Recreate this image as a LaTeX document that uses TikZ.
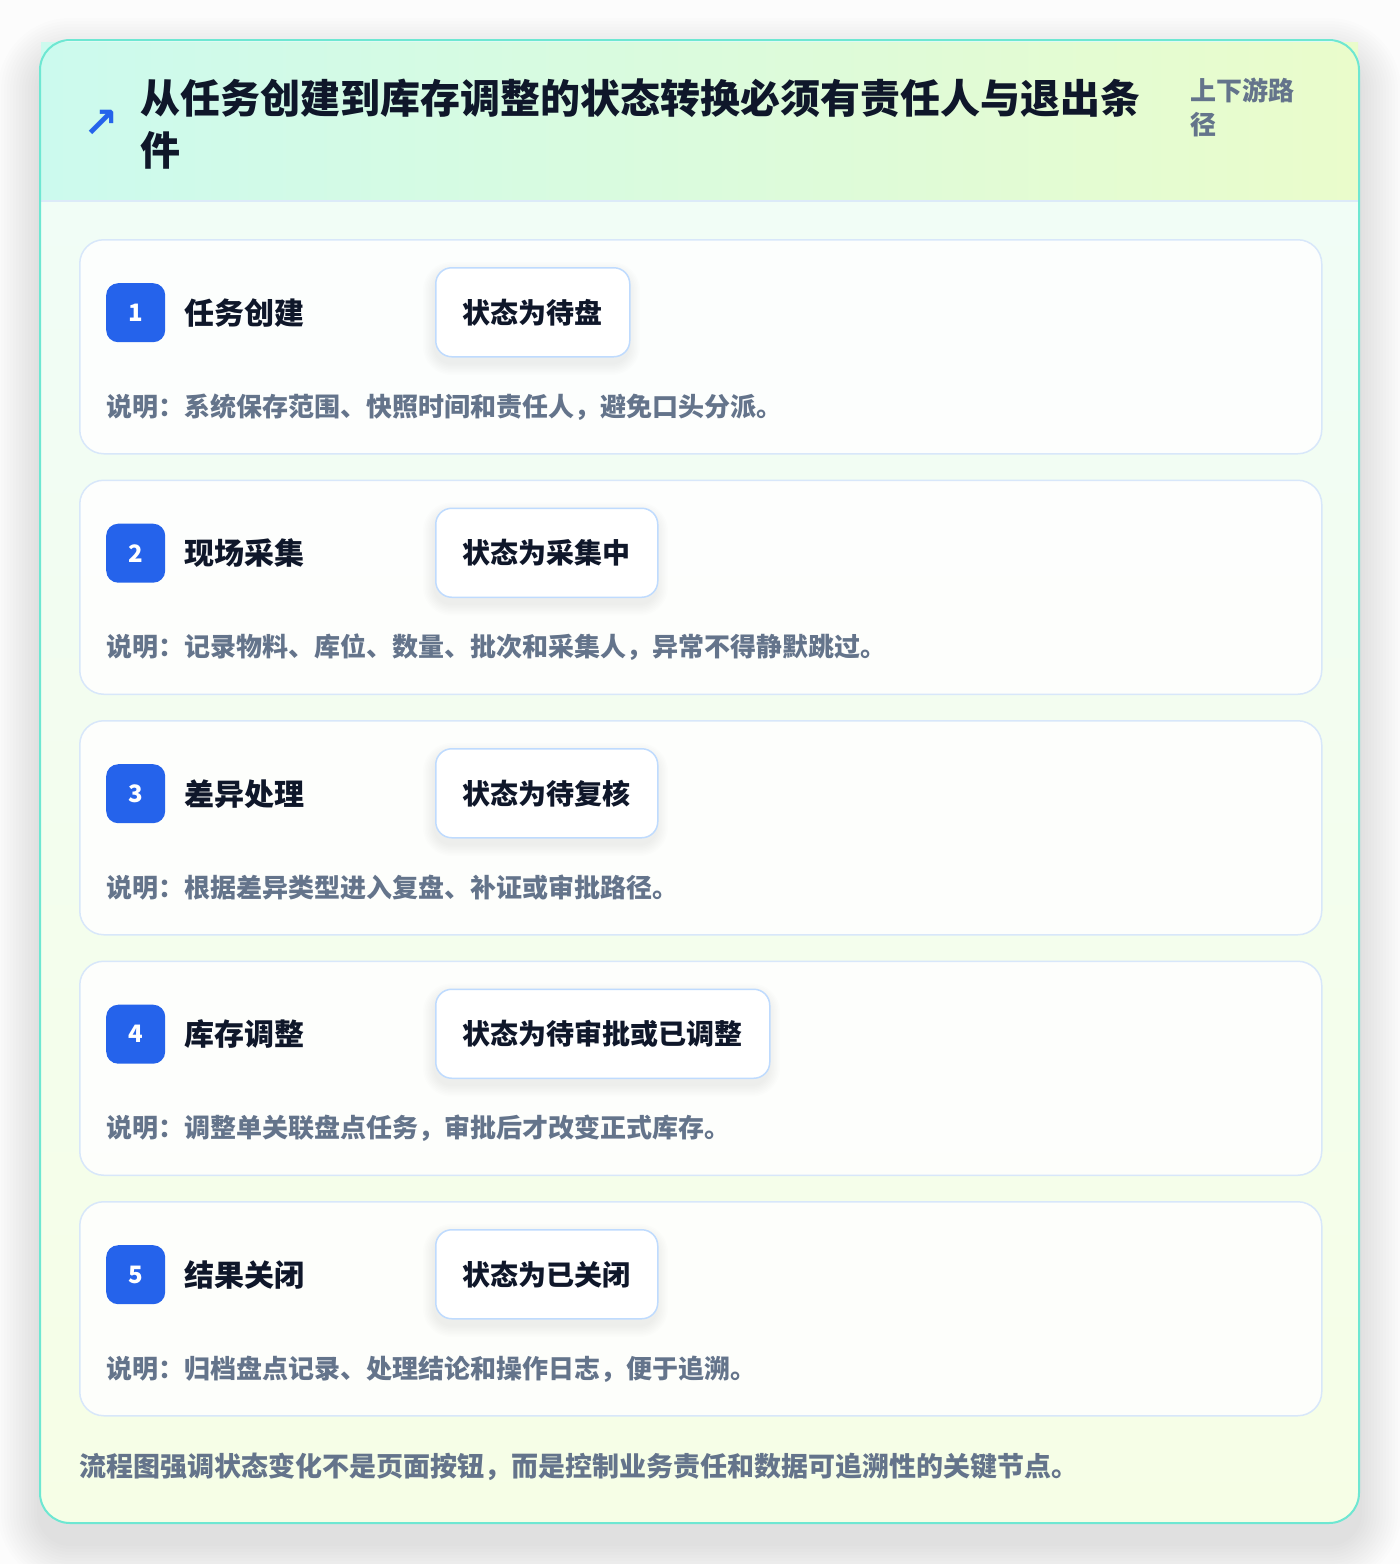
\documentclass[tikz,border=0pt]{standalone}
\usepackage{fontspec}
\setmainfont{Noto Sans CJK SC}
\newfontfamily\symfont{DejaVu Sans}
\definecolor{pagebg}{HTML}{FCFCFC}
\definecolor{tealline}{HTML}{6EE7D2}
\definecolor{headL}{HTML}{CCFAEE}
\definecolor{headR}{HTML}{EAFCCB}
\definecolor{bodyT}{HTML}{F0FDF8}
\definecolor{bodyB}{HTML}{F6FEE6}
\definecolor{sepline}{HTML}{DCEAF8}
\definecolor{cardline}{HTML}{D8E7FA}
\definecolor{stateline}{HTML}{BFDBFE}
\definecolor{badgeblue}{HTML}{2563EB}
\definecolor{darktext}{HTML}{0F172A}
\definecolor{greytext}{HTML}{64748B}
\tikzset{
  card/.style={draw=cardline, line width=1.5pt, fill=white, fill opacity=0.85, rounded corners=24pt,
    minimum width=1242pt, minimum height=214pt, anchor=north west, inner sep=0pt},
  badge/.style={fill=badgeblue, rounded corners=12pt, minimum width=59pt, minimum height=59pt,
    inner sep=0pt, anchor=north west, text=white, font=\bfseries\fontsize{24}{24}\selectfont},
  steptitle/.style={anchor=west, inner sep=0pt, text=darktext, font=\bfseries\fontsize{30}{36}\selectfont},
  statebox/.style={draw=stateline, line width=1.5pt, fill=white, rounded corners=16pt, minimum height=89pt,
    inner xsep=27pt, inner ysep=0pt, anchor=north west, text=darktext, font=\bfseries\fontsize{28}{34}\selectfont},
  desc/.style={anchor=west, inner sep=0pt, text=greytext, font=\bfseries\fontsize{26}{32}\selectfont},
}
\newcommand\softshadow[5]{% x1 y1 x2 y2 radius
  \foreach \i in {1,...,8}{
    \pgfmathsetmacro\rr{#5+1.5*\i}
    \fill[black, opacity=0.006, rounded corners=\rr pt] (#1-\i*1.5, #2-\i*1.5+7) rectangle (#3+\i*1.5, #4+\i*1.5+7);
  }}
\begin{document}
\begin{tikzpicture}[x=1pt, y=-1pt]
\useasboundingbox (0,0) rectangle (1400,1564);
\fill[pagebg] (0,0) rectangle (1400,1564);
% outer shadow
\foreach \i in {1,...,14}{
  \pgfmathsetmacro\rr{30+3*\i}
  \fill[black, opacity=0.006, rounded corners=\rr pt] (40-\i*3, 40-\i*3+20) rectangle (1359+\i*3, 1523+\i*3+20);
}
% body
\fill[top color=bodyT, bottom color=bodyB, rounded corners=30pt] (40,40) rectangle (1359,1523);
% header
\fill[left color=headL, right color=headR] (41,42) rectangle (1358,201);
\draw[sepline, line width=2pt] (41,201) -- (1358,201);
\draw[tealline, line width=2pt, rounded corners=30pt] (40,40) rectangle (1359,1523);
\node[anchor=center, inner sep=0pt, text=badgeblue, font=\symfont\bfseries\fontsize{42}{42}\selectfont] (icon) at (101,124) {↗};
\node[anchor=west, inner sep=0pt, align=left, text=darktext, font=\bfseries\fontsize{40}{52}\selectfont] (title) at (140,124)
  {从任务创建到库存调整的状态转换必须有责任人与退出条\\件};
\node[anchor=west, inner sep=0pt, align=left, text=greytext, font=\bfseries\fontsize{26}{34}\selectfont] (scope) at (1190,107)
  {上下游路\\径};
% cards
\foreach \n/\t/\name/\state/\sw/\d in {
  1/239/任务创建/状态为待盘/193/{说明：系统保存范围、快照时间和责任人，避免口头分派。},
  2/479.5/现场采集/状态为采集中/221/{说明：记录物料、库位、数量、批次和采集人，异常不得静默跳过。},
  3/720/差异处理/状态为待复核/221/{说明：根据差异类型进入复盘、补证或审批路径。},
  4/960.5/库存调整/状态为待审批或已调整/333/{说明：调整单关联盘点任务，审批后才改变正式库存。},
  5/1201/结果关闭/状态为已关闭/221/{说明：归档盘点记录、处理结论和操作日志，便于追溯。}}{
  \node[card] (card\n) at (79,\t) {};
  \node[badge] (badge\n) at (106,\t+44) {\n};
  \node[steptitle] (title\n) at (184,\t+74) {\name};
  \softshadow{435}{\t+28}{435+\sw}{\t+117}{16}
  \node[statebox, minimum width=\sw pt] (state\n) at (435,\t+28) {\state};
  \node[desc] (desc\n) at (106,\t+168) {\d};
}
\node[anchor=west, inner sep=0pt, text=greytext, font=\bfseries\fontsize{27}{32}\selectfont] (footer) at (79,1467)
  {流程图强调状态变化不是页面按钮，而是控制业务责任和数据可追溯性的关键节点。};
\end{tikzpicture}
\end{document}
